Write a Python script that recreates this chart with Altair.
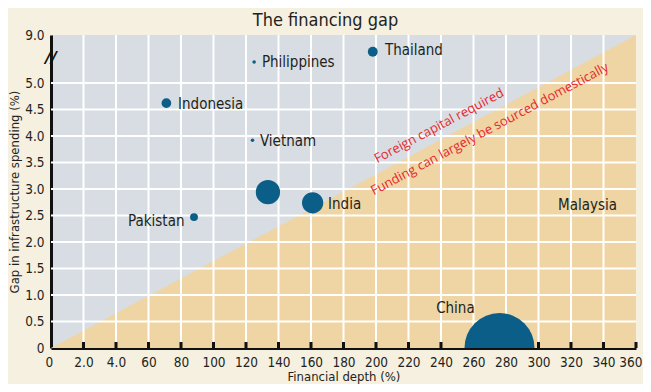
import altair as alt
import pandas as pd

# ---------------- data ----------------
countries = ["Thailand", "Philippines", "Indonesia", "Vietnam", "", "India", "Pakistan", "China"]
depth = [198, 125, 71, 124, 133.5, 161, 88, 276]
gap = [7.6, 6.75, 4.62, 3.92, 2.94, 2.74, 2.47, 0.0]
weight = [31, 4, 30, 4, 187, 144, 20, 1560]

label_names = ["Thailand", "Philippines", "Indonesia", "Vietnam", "India", "Pakistan", "China", "Malaysia"]
label_depth = [205.5, 129.8, 78.2, 128.6, 170.5, 47.4, 237.0, 312.0]
label_gap = [7.75, 6.75, 4.6, 3.9, 2.72, 2.40, 0.755, 2.70]

x_ticks = list(range(0, 361, 20))
x_tick_labels = ["0", "2.0", "4.0", "60", "80", "100", "120", "140", "160", "180",
                 "200", "220", "240", "260", "280", "300", "320", "340", "360"]
y_ticks = [0, 0.5, 1.0, 1.5, 2.0, 2.5, 3.0, 3.5, 4.0, 4.5, 5.0, 9.0]
y_tick_labels = ["0", "0.5", "1.0", "1.5", "2.0", "2.5", "3.0", "3.5", "4.0", "4.5", "5.0", "9.0"]

boundary_depth = [0, 304.8, 360]
boundary_gap = [0, 5.0, 9.0]

notes = ["Foreign capital required", "Funding can largely be sourced domestically"]
note_depth = [238.8, 270.0]
note_gap = [4.19, 4.13]

# ---------------- styling ----------------
FONT = "'Liberation Sans Narrow', 'DejaVu Sans Condensed', sans-serif"
BG = "#f5f0e0"
UPPER = "#d7dde2"
TAN = "#eed5a3"
BLUE = "#0b5e88"
RED = "#e8262d"

W, H = 585, 313

x_scale = alt.Scale(domain=[0, 360], nice=False, zero=False)
y_scale = alt.Scale(domain=[0, 5, 9], range=[H, 48, 0], nice=False)


def js_list(vals):
    return "[" + ",".join(repr(v) if isinstance(v, str) else str(v) for v in vals) + "]"


x_axis = alt.Axis(
    values=x_ticks,
    labelExpr=f"{js_list(x_tick_labels)}[indexof({js_list(x_ticks)}, datum.value)]",
    title="Financial depth (%)",
    grid=False, ticks=False, domain=True, domainColor="#111111", domainWidth=3,
    labelFont=FONT, labelFontSize=13.5, labelColor="#231f20", labelPadding=7,
    labelOverlap=False, labelFlush=True, labelFlushOffset=6,
    titleFont=FONT, titleFontSize=13, titleFontWeight="normal", titleColor="#231f20",
    titlePadding=2,
)
y_axis = alt.Axis(
    values=y_ticks,
    labelExpr=f"{js_list(y_tick_labels)}[indexof({js_list(y_ticks)}, datum.value)]",
    title="Gap in infrastructure spending (%)",
    grid=False, ticks=False, domain=True, domainColor="#111111", domainWidth=3,
    labelFont=FONT, labelFontSize=13.5, labelColor="#231f20", labelPadding=7,
    labelOverlap=False, labelFlush=False, labelBaseline="middle",
    titleFont=FONT, titleFontSize=13, titleFontWeight="normal", titleColor="#231f20",
    titlePadding=3,
)

X = lambda f="depth": alt.X(f"{f}:Q", scale=x_scale, axis=x_axis)
Y = lambda f="gap": alt.Y(f"{f}:Q", scale=y_scale, axis=y_axis)

bubbles = pd.DataFrame({"name": countries, "depth": depth, "gap": gap, "weight": weight})
labels = pd.DataFrame({"name": label_names, "depth": label_depth, "gap": label_gap})
boundary = pd.DataFrame({"depth": boundary_depth, "gap": boundary_gap})
vgrid = pd.DataFrame({"depth": [v for v in x_ticks if 0 < v < 360]})
xticks_df = pd.DataFrame({"depth": [v for v in x_ticks if v > 0]})
hgrid = pd.DataFrame({"gap": [v for v in y_ticks if 0 < v <= 5]})
notes_df = pd.DataFrame({"note": notes, "depth": note_depth, "gap": note_gap})
brk = pd.DataFrame({"depth": [0], "gap": [7.1], "t": ["//"]})

area = alt.Chart(boundary).mark_area(color=TAN, opacity=1).encode(x=X(), y=Y())

vlines = alt.Chart(vgrid).mark_rule(color="white", strokeWidth=2).encode(
    x=X(), y=alt.value(0), y2=alt.value(H))
hlines = alt.Chart(hgrid).mark_rule(color="white", strokeWidth=2).encode(
    y=Y(), x=alt.value(0), x2=alt.value(W))
xt = alt.Chart(xticks_df).mark_rule(color="#111111", strokeWidth=3).encode(
    x=X(), y=alt.value(H), y2=alt.value(H - 6))

circles = alt.Chart(bubbles).mark_circle(color=BLUE, opacity=1, clip=True).encode(
    x=X(), y=Y(),
    size=alt.Size("weight:Q", scale=alt.Scale(domain=[0, 1560], range=[0, 4901]), legend=None),
)

txt = alt.Chart(labels).mark_text(
    align="left", baseline="middle", font=FONT, fontSize=15, color="#231f20"
).encode(x=X(), y=Y(), text="name:N")

note_txt = alt.Chart(notes_df).mark_text(
    align="center", baseline="middle", fontSize=13, color=RED, angle=332,
    font="'Open Sans', 'DejaVu Sans', sans-serif"
).encode(x=X(), y=Y(), text="note:N")

brk_txt = alt.Chart(brk).mark_text(
    align="center", baseline="middle", fontSize=16, fontWeight="bold", color="#111111",
    font="'DejaVu Sans', sans-serif", fontStyle="italic"
).encode(x=X(), y=Y(), text="t:N")

chart = alt.layer(area, vlines, hlines, xt, circles, txt, note_txt, brk_txt).properties(
    width=W, height=H,
    autosize=alt.AutoSizeParams(type="none"),
    padding={"left": 43, "top": 27, "right": 7, "bottom": 36},
    background=BG,
    title=alt.Title("The financing gap", font=FONT, fontSize=18, fontWeight="normal",
                    color="#231f20", offset=1, dx=-18, dy=3, anchor="middle"),
).configure_view(stroke=None, fill=UPPER)

chart.save("out.html", embed_options={"renderer": "svg", "actions": False})
